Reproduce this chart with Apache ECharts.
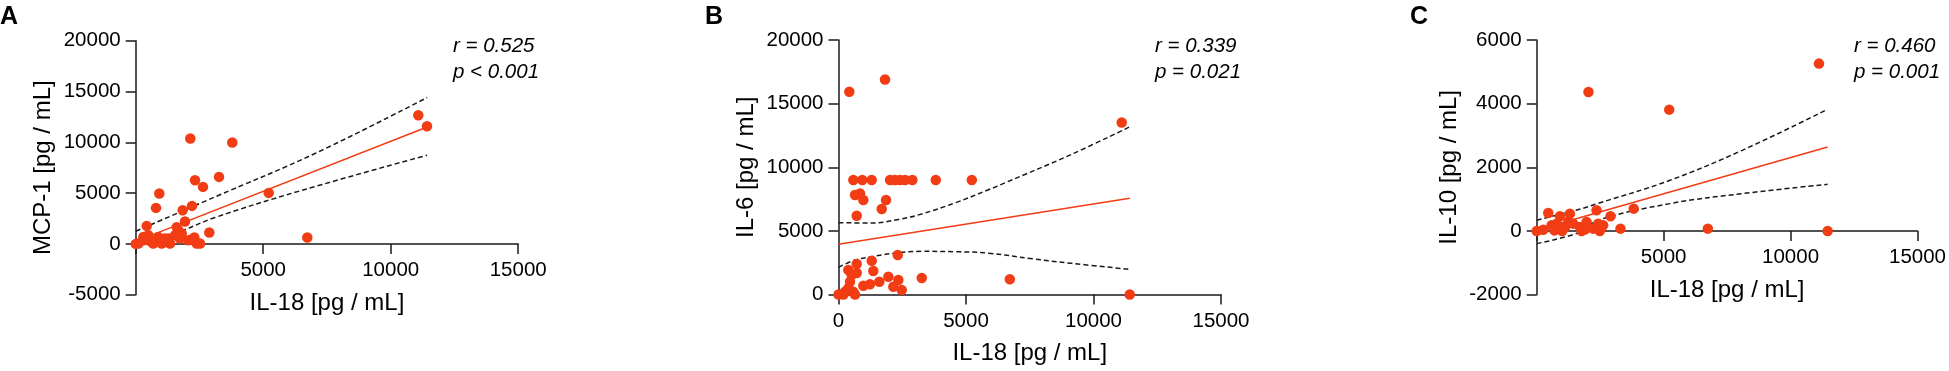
<!DOCTYPE html>
<html>
<head>
<meta charset="utf-8">
<script src="https://cdn.jsdelivr.net/npm/echarts@6/dist/echarts.min.js"></script>
<style>
  html, body { margin: 0; padding: 0; background: #fff; }
  #chart { width: 1949px; height: 371px; }
</style>
</head>
<body>
<div id="chart"></div>
<script>
// A: IL-18 vs MCP-1
const il18A = [0, 102, 298, 298, 431, 494, 560, 627, 690, 796, 886, 926, 1020, 1149, 1279, 1345, 1541, 1608, 1671, 1737,
  1804, 1843, 1933, 2063, 2141, 2196, 2208, 2300, 2325, 2392, 2522, 2639, 2886, 3267, 3788, 5216, 6730, 11082, 11424];
const mcp1 = [0, 39, 364, 690, 1772, 856, 300, 197, 40, 3543, 689, 4961, 39, 530, 531, 39, 856, 1644, 1348, 531,
  1024, 3317, 2205, 364, 10374, 433, 3740, 630, 6270, 39, 39, 5610, 1122, 6594, 9980, 5020, 630, 12667, 11585];
const fitA = [[0, 250], [11430, 11510]];
const upperA = [[0, 1250], [3110, 4626], [7031, 8898], [11430, 14409]];
const lowerA = [[0, -300], [1867, 1350], [3110, 2600], [6443, 5217], [11430, 8730]];

// B: IL-18 vs IL-6
const il18B = [424, 1825, 11107,
  581, 934, 1303, 2021, 2217, 2414, 2610, 2897, 3815, 5228,
  648, 844, 974, 1864, 1695, 714,
  2323, 1303, 714, 385, 1366, 518, 714, 3265, 1955, 2347, 1601, 1236, 974, 2151, 2480, 451, 385, 581,
  0, 190, 255, 648, 6718, 11421];
const il6 = [15928, 16900, 13523,
  9000, 9000, 9000, 9000, 9000, 9000, 9000, 9000, 9000, 9000,
  7814, 7945, 7421, 7421, 6714, 6190,
  3102, 2654, 2395, 1924, 1846, 1531, 1689, 1290, 1398, 1139, 1005, 801, 691, 613, 353, 1005, 487, 220,
  0, 0, 220, 0, 1193, 0];
const fitB = [[0, 3940], [11421, 7560]];
const upperB = [[0, 5640], [1300, 5620], [2350, 5900], [3265, 6330], [4572, 7200], [5880, 8230], [6534, 8780], [9124, 11000], [11421, 13180]];
const lowerB = [[0, 2136], [648, 2709], [1303, 2970], [2347, 3285], [3265, 3390], [4572, 3364], [5880, 3250], [7622, 2800], [9124, 2450], [11421, 1979]];

// C: IL-18 vs IL-10
const il18C = [0, 259, 456, 589, 700, 786, 915, 1002, 1112, 1250, 1308, 1438, 1701, 1766, 1900, 1964, 2039, 2223,
  2357, 2420, 2485, 2550, 2616, 2907, 3300, 3822, 5220, 6741, 11119, 11461];
const il10 = [0, 42, 565, 179, 20, 232, 462, 0, 107, 300, 546, 232, 126, 0, 50, 283, 4367, 75,
  650, 232, 0, 100, 179, 462, 75, 703, 3813, 75, 5258, 0];
const fitC = [[0, 30], [11461, 2640]];
const upperC = [[0, 340], [1767, 703], [2396, 861], [5248, 1593], [8095, 2535], [11461, 3823]];
const lowerC = [[0, -396], [1767, -20], [2396, 336], [5248, 861], [8095, 1175], [11461, 1467]];

const dotColor = '#f23c14';
const inkColor = '#1a1a1a';
const fontFamily = '"Liberation Sans", Arial, Helvetica, sans-serif';

const panels = [
  { x: il18A, y: mcp1, fit: fitA, upper: upperA, lower: lowerA, yName: 'MCP-1 [pg / mL]',
    yMin: -5000, yMax: 20000, yStep: 5000, left: 135.7, top: 40.7, height: 254, showX0: false, yGap: 80 },
  { x: il18B, y: il6, fit: fitB, upper: upperB, lower: lowerB, yName: 'IL-6 [pg / mL]',
    yMin: 0, yMax: 20000, yStep: 5000, left: 838.5, top: 40, height: 254.5, showX0: true, yGap: 80 },
  { x: il18C, y: il10, fit: fitC, upper: upperC, lower: lowerC, yName: 'IL-10 [pg / mL]',
    yMin: -2000, yMax: 6000, yStep: 2000, left: 1536.7, top: 40, height: 254.7, showX0: false, yGap: 75 },
];

const notes = [
  { letter: 'A', letterX: 0, text: 'r = 0.525\np < 0.001', textX: 453 },
  { letter: 'B', letterX: 705, text: 'r = 0.339\np = 0.021', textX: 1155 },
  { letter: 'C', letterX: 1410, text: 'r = 0.460\np = 0.001', textX: 1854 },
];

const grid = [], xAxis = [], yAxis = [], series = [], graphic = [];

panels.forEach((p, i) => {
  grid.push({ left: p.left, top: p.top, width: 382.5, height: p.height });

  // x axis sits on y = 0 with its labels and name, so lift it from the grid bottom
  const zeroLift = (p.height * (0 - p.yMin)) / (p.yMax - p.yMin);

  xAxis.push({
    gridIndex: i, type: 'value', min: 0, max: 15000, interval: 5000, offset: -zeroLift,
    name: 'IL-18 [pg / mL]', nameLocation: 'middle', nameGap: 47,
    nameTextStyle: { fontSize: 24, color: '#000', fontFamily },
    axisLine: { show: true, onZero: false, lineStyle: { color: inkColor, width: 1.5 } },
    axisTick: { show: true, length: 10, lineStyle: { color: inkColor, width: 1.5 } },
    axisLabel: {
      margin: 16, fontSize: 20.5, color: '#000', fontFamily,
      formatter: (v) => (v === 0 && !p.showX0 ? '' : String(v)),
    },
    splitLine: { show: false },
  });

  yAxis.push({
    gridIndex: i, type: 'value', min: p.yMin, max: p.yMax, interval: p.yStep,
    name: p.yName, nameLocation: 'middle', nameGap: p.yGap, nameRotate: 90,
    nameTextStyle: { fontSize: 24, color: '#000', fontFamily },
    axisLine: { show: true, onZero: false, lineStyle: { color: inkColor, width: 1.5 } },
    axisTick: { show: true, length: 10, lineStyle: { color: inkColor, width: 1.5 } },
    axisLabel: { margin: 15, fontSize: 20.5, color: '#000', fontFamily, formatter: (v) => String(v) },
    splitLine: { show: false },
  });

  const dashed = { color: inkColor, width: 1.5, type: [5, 3] };
  series.push(
    { type: 'line', xAxisIndex: i, yAxisIndex: i, data: p.upper, smooth: 0.4, symbol: 'none',
      lineStyle: dashed, silent: true, z: 2 },
    { type: 'line', xAxisIndex: i, yAxisIndex: i, data: p.lower, smooth: 0.4, symbol: 'none',
      lineStyle: dashed, silent: true, z: 2 },
    { type: 'line', xAxisIndex: i, yAxisIndex: i, data: p.fit, symbol: 'none',
      lineStyle: { color: dotColor, width: 1.5 }, silent: true, z: 3 },
    { type: 'scatter', xAxisIndex: i, yAxisIndex: i, symbolSize: 10.5,
      data: p.x.map((v, k) => [v, p.y[k]]),
      itemStyle: { color: dotColor, opacity: 1 }, z: 5 },
  );

  const n = notes[i];
  graphic.push(
    { type: 'text', left: n.letterX, top: 5,
      style: { text: n.letter, font: `bold 25px ${fontFamily}`, fill: '#000' } },
    { type: 'text', left: n.textX, top: 33,
      style: { text: n.text, font: `italic 20.5px ${fontFamily}`, lineHeight: 26, fill: '#000' } },
  );
});

const chart = echarts.init(document.getElementById('chart'), null, { renderer: 'canvas' });
chart.setOption({
  backgroundColor: '#fff',
  animation: false,
  grid, xAxis, yAxis, series, graphic,
});
</script>
</body>
</html>
